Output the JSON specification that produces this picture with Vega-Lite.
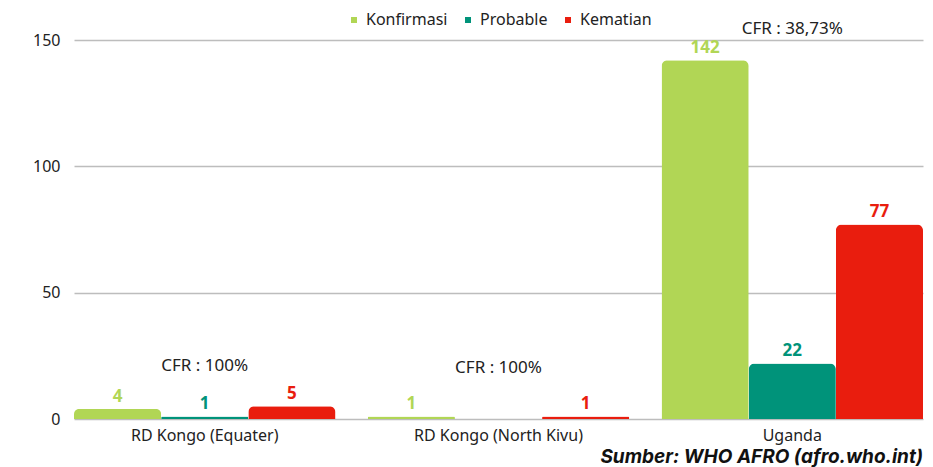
{
  "$schema": "https://vega.github.io/schema/vega-lite/v6.json",
  "width": 933,
  "height": 467,
  "autosize": {"type": "fit", "contains": "padding"},
  "padding": {"left": 32, "top": 12, "right": 10, "bottom": 0},
  "background": "white",
  "config": {
    "font": "Noto Sans",
    "view": {"stroke": null},
    "legend": {"layout": {"top": {"anchor": "middle"}}}
  },
  "title": {
    "text": "Sumber: WHO AFRO (afro.who.int)",
    "orient": "bottom",
    "anchor": "end",
    "fontStyle": "italic",
    "fontWeight": "bold",
    "fontSize": 19,
    "color": "#111",
    "offset": 5,
    "font": "Inter"
  },
  "datasets": {
    "cases": [
      {"wilayah": "RD Kongo (Equater)", "kategori": "Konfirmasi", "jumlah": 4},
      {"wilayah": "RD Kongo (Equater)", "kategori": "Probable", "jumlah": 1},
      {"wilayah": "RD Kongo (Equater)", "kategori": "Kematian", "jumlah": 5},
      {"wilayah": "RD Kongo (North Kivu)", "kategori": "Konfirmasi", "jumlah": 1},
      {"wilayah": "RD Kongo (North Kivu)", "kategori": "Kematian", "jumlah": 1},
      {"wilayah": "Uganda", "kategori": "Konfirmasi", "jumlah": 142},
      {"wilayah": "Uganda", "kategori": "Probable", "jumlah": 22},
      {"wilayah": "Uganda", "kategori": "Kematian", "jumlah": 77}
    ],
    "cfr": [
      {"wilayah": "RD Kongo (Equater)", "label": "CFR : 100%", "posisi": 21},
      {"wilayah": "RD Kongo (North Kivu)", "label": "CFR : 100%", "posisi": 20},
      {"wilayah": "Uganda", "label": "CFR : 38,73%", "posisi": 154.5}
    ]
  },
  "encoding": {
    "x": {
      "field": "wilayah",
      "type": "nominal",
      "sort": ["RD Kongo (Equater)", "RD Kongo (North Kivu)", "Uganda"],
      "scale": {"paddingInner": 0.11, "paddingOuter": 0},
      "axis": {
        "title": null,
        "labelAngle": 0,
        "labelFontSize": 16,
        "labelColor": "#222",
        "domain": false,
        "ticks": false,
        "labelPadding": 8
      }
    }
  },
  "layer": [
    {
      "data": {"name": "cases"},
      "mark": {"type": "bar", "cornerRadiusTopLeft": 6, "cornerRadiusTopRight": 6},
      "encoding": {
        "xOffset": {"field": "kategori", "type": "nominal", "sort": ["Konfirmasi", "Probable", "Kematian"], "scale": {"paddingInner": 0, "paddingOuter": 0}},
        "y": {
          "field": "jumlah",
          "type": "quantitative",
          "scale": {"domain": [0, 150], "nice": false},
          "axis": {
            "title": null,
            "values": [0, 50, 100, 150],
            "labelFontSize": 16,
            "labelColor": "#222",
            "domain": false,
            "ticks": false,
            "labelPadding": 14,
            "gridColor": "#bdbdbd",
            "gridWidth": 1.5
          }
        },
        "color": {
          "field": "kategori",
          "type": "nominal",
          "sort": ["Konfirmasi", "Probable", "Kematian"],
          "scale": {"domain": ["Konfirmasi", "Probable", "Kematian"], "range": ["#b1d655", "#00937a", "#e91d0e"]},
          "legend": {
            "title": null,
            "orient": "top",
            "direction": "horizontal",
            "symbolType": "square",
            "symbolSize": 36,
            "labelFontSize": 16,
            "labelColor": "#222",
            "columnPadding": 12,
            "symbolOffset": 0,
            "labelOffset": 4,
            "offset": 12,
            "padding": 0
          }
        }
      }
    },
    {
      "data": {"name": "cases"},
      "mark": {"type": "text", "baseline": "bottom", "dy": -3, "fontWeight": "bold", "fontSize": 17},
      "encoding": {
        "xOffset": {"field": "kategori", "type": "nominal", "sort": ["Konfirmasi", "Probable", "Kematian"]},
        "y": {"field": "jumlah", "type": "quantitative"},
        "text": {"field": "jumlah", "type": "quantitative"},
        "color": {"field": "kategori", "type": "nominal", "sort": ["Konfirmasi", "Probable", "Kematian"]}
      }
    },
    {
      "data": {"name": "cfr"},
      "mark": {"type": "text", "baseline": "middle", "fontSize": 17, "color": "#222", "clip": false},
      "encoding": {
        "y": {"field": "posisi", "type": "quantitative"},
        "text": {"field": "label", "type": "nominal"}
      }
    }
  ]
}
